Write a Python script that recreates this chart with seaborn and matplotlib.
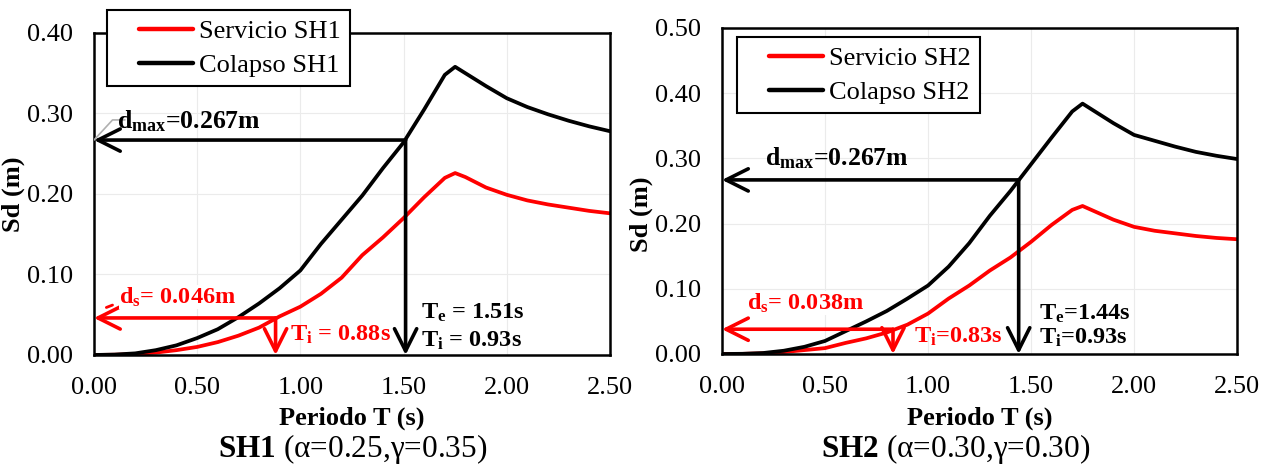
import matplotlib
matplotlib.use('Agg')
import matplotlib.pyplot as plt
from matplotlib.legend_handler import HandlerLine2D
import seaborn as sns
import pandas as pd
import numpy as np

# Periodo T (s)
periodo = [0.0, 0.1, 0.2, 0.3, 0.4, 0.5, 0.6, 0.7, 0.8, 0.9, 1.0, 1.1, 1.2, 1.3,
           1.4, 1.5, 1.6, 1.7, 1.75, 1.8, 1.9, 2.0, 2.1, 2.2, 2.3, 2.4, 2.5]

# Sd (m)
servicio_sh1 = [0.0, 0.0003, 0.001, 0.003, 0.006, 0.010, 0.016, 0.024, 0.034, 0.048,
                0.060, 0.076, 0.096, 0.124, 0.146, 0.170, 0.196, 0.220, 0.226, 0.221,
                0.208, 0.199, 0.192, 0.187, 0.183, 0.179, 0.176]
colapso_sh1 = [0.0, 0.0005, 0.002, 0.006, 0.012, 0.021, 0.032, 0.047, 0.064, 0.083,
               0.105, 0.138, 0.168, 0.198, 0.232, 0.264, 0.305, 0.348, 0.358, 0.350,
               0.334, 0.319, 0.308, 0.299, 0.291, 0.284, 0.278]
servicio_sh2 = [0.0, 0.0002, 0.001, 0.003, 0.006, 0.009, 0.017, 0.024, 0.033, 0.045,
                0.062, 0.085, 0.105, 0.128, 0.148, 0.172, 0.198, 0.221, 0.227, 0.220,
                0.206, 0.195, 0.189, 0.185, 0.181, 0.178, 0.176]
colapso_sh2 = [0.0, 0.0003, 0.0015, 0.005, 0.011, 0.020, 0.035, 0.050, 0.066, 0.085,
               0.105, 0.134, 0.170, 0.212, 0.250, 0.291, 0.332, 0.372, 0.384, 0.374,
               0.354, 0.336, 0.327, 0.318, 0.310, 0.304, 0.299]

# annotated values
d_max = 0.267
te_sh1, ti_sh1, ds_sh1 = 1.51, 0.88, 0.046
te_sh2, ti_sh2, ds_sh2 = 1.44, 0.83, 0.038

sns.set_style('whitegrid', {'grid.color': '#ebebeb', 'axes.edgecolor': 'black'})
plt.rcParams['font.family'] = ['Liberation Serif', 'DejaVu Serif']
plt.rcParams['mathtext.fontset'] = 'custom'
plt.rcParams['mathtext.rm'] = 'Liberation Serif'
plt.rcParams['mathtext.bf'] = 'Liberation Serif:bold'
plt.rcParams['mathtext.it'] = 'Liberation Serif:italic'
for key in ['text.color', 'axes.labelcolor', 'xtick.color', 'ytick.color']:
    plt.rcParams[key] = 'black'

RED = '#ff0000'
FS = 19      # ticks, labels, legend
AFS = 17.5   # annotations

fig = plt.figure(figsize=(12.68, 4.68), dpi=100)
ax1 = fig.add_axes([0.0741, 0.2415, 0.4069, 0.6880])
ax2 = fig.add_axes([0.5694, 0.2436, 0.4062, 0.6966])


class ShortLine(HandlerLine2D):
    """Legend line that only fills the right part of the handle box."""
    def get_xdata(self, legend, xdescent, ydescent, width, height, fontsize):
        x = np.array([-xdescent + 0.3 * width, -xdescent + width])
        return x, x


def arrow(ax, start, end, color):
    ax.annotate('', xy=end, xytext=start,
                arrowprops=dict(arrowstyle='->,head_length=0.8,head_width=0.4',
                                lw=2.6, color=color, shrinkA=0, shrinkB=0,
                                mutation_scale=20),
                zorder=4)


def draw_panel(ax, name, serv, col, ymax, te, ti, ds, leg_anchor, ylab_y,
               te_txt, ti_txt, ti_red_txt, ds_txt, pos):
    df = pd.DataFrame({
        'T': periodo * 2,
        'Sd': serv + col,
        'curva': ['Servicio ' + name] * len(periodo) + ['Colapso ' + name] * len(periodo),
    })
    sns.lineplot(data=df, x='T', y='Sd', hue='curva', sort=False, ax=ax,
                 palette={'Servicio ' + name: RED, 'Colapso ' + name: 'black'},
                 linewidth=2.7)

    ax.set_xlim(0, 2.5)
    ax.set_ylim(0, ymax)
    ax.set_xticks([0, 0.5, 1.0, 1.5, 2.0, 2.5])
    ax.set_yticks([i / 10 for i in range(int(round(ymax * 10)) + 1)])
    ax.xaxis.set_major_formatter(plt.FormatStrFormatter('%.2f'))
    ax.yaxis.set_major_formatter(plt.FormatStrFormatter('%.2f'))
    ax.tick_params(labelsize=FS, length=0)
    ax.tick_params(axis='x', pad=16)
    ax.tick_params(axis='y', pad=15)
    for s in ax.spines.values():
        s.set_linewidth(1.8)
        s.set_color('black')

    ax.set_xlabel('Periodo T (s)', fontsize=FS, fontweight='bold')
    ax.set_ylabel('Sd (m)', fontsize=FS, fontweight='bold')
    ax.xaxis.set_label_coords(0.5, -0.16)
    ax.yaxis.set_label_coords(-0.134, ylab_y)

    handles, labels = ax.get_legend_handles_labels()
    leg = ax.legend(handles, labels, loc='upper left', bbox_to_anchor=leg_anchor,
                    fontsize=FS, frameon=True, fancybox=False, framealpha=1,
                    edgecolor='black', handlelength=2.9, borderpad=0.35,
                    labelspacing=0.4, handletextpad=0.25, borderaxespad=0,
                    handler_map={h: ShortLine() for h in handles})
    leg.get_frame().set_linewidth(1.5)
    leg.set_zorder(10)
    for h in leg.get_lines():
        h.set_linewidth(3.2)

    # black arrows (collapse)
    arrow(ax, (te, d_max), (0, d_max), 'black')
    arrow(ax, (te, d_max), (te, 0), 'black')
    # red arrows (service)
    arrow(ax, (ti, ds), (0, ds), RED)
    arrow(ax, (ti, ds), (ti, 0), RED)

    ax.text(pos['dmax'][0], pos['dmax'][1], r'$\mathbf{d_{max}}$=0.267m',
            fontsize=AFS + 1, fontweight='bold', va='center', zorder=5)
    ax.text(pos['ds'][0], pos['ds'][1], r'$\mathbf{d_{s}}$' + ds_txt,
            fontsize=AFS, fontweight='bold', color=RED, va='center', zorder=5,
            bbox=dict(facecolor='white', edgecolor='none', pad=0))
    ax.text(pos['ti_red'][0], pos['ti_red'][1], r'$\mathbf{T_{i}}$' + ti_red_txt,
            fontsize=AFS, fontweight='bold', color=RED, va='center', zorder=5)
    ax.text(pos['te'][0], pos['te'][1], r'$\mathbf{T_{e}}$' + te_txt,
            fontsize=AFS, fontweight='bold', va='center', zorder=5)
    ax.text(pos['te'][0], pos['te'][1] - pos['gap'], r'$\mathbf{T_{i}}$' + ti_txt,
            fontsize=AFS, fontweight='bold', va='center', zorder=5)


draw_panel(ax1, 'SH1', servicio_sh1, colapso_sh1, 0.40, te_sh1, ti_sh1, ds_sh1,
           (0.025, 1.071), 0.5, ' = 1.51s', ' = 0.93s', ' = 0.88s', '= 0.046m',
           {'dmax': (0.11, 0.291), 'ds': (0.12, 0.072), 'ti_red': (0.95, 0.025),
            'te': (1.585, 0.052), 'gap': 0.034})
draw_panel(ax2, 'SH2', servicio_sh2, colapso_sh2, 0.50, te_sh2, ti_sh2, ds_sh2,
           (0.029, 0.972), 0.43, '=1.44s', '=0.93s', '=0.83s', '= 0.038m',
           {'dmax': (0.21, 0.300), 'ds': (0.12, 0.078), 'ti_red': (0.93, 0.026),
            'te': (1.54, 0.061), 'gap': 0.037})

# grey / red leader marks near the left axis (SH1)
ax1.plot([0.0, 0.09, 0.15], [d_max, 0.292, 0.292], color='#b0b0b0', lw=1.2, zorder=3)
ax1.plot([0.06, 0.09], [0.059, 0.062], color=RED, lw=2, zorder=3)

fig.text(0.278, 0.040, r'$\mathbf{SH1}$ (α=0.25,γ=0.35)', fontsize=22.5,
         ha='center', va='center')
fig.text(0.754, 0.040, r'$\mathbf{SH2}$ (α=0.30,γ=0.30)', fontsize=22.5,
         ha='center', va='center')

fig.savefig('out.png', dpi=100)
